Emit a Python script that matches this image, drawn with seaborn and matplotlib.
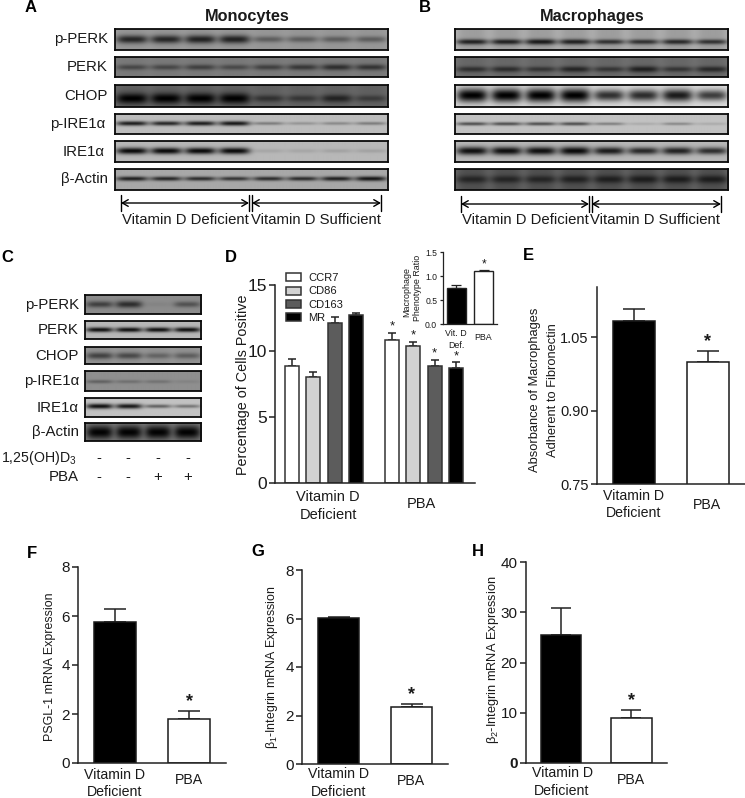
import numpy as np
import matplotlib
matplotlib.use("Agg")
import matplotlib.pyplot as plt
from matplotlib import font_manager
import seaborn as sns

# bar charts
GROUPS = ["Vitamin D\nDeficient", "PBA"]
D_MARKERS = ["CCR7", "CD86", "CD163", "MR"]
D_DEFICIENT = [8.9, 8.0, 12.15, 12.7]
D_DEFICIENT_TOP = [9.4, 8.4, 12.55, 12.85]
D_PBA = [10.8, 10.4, 8.9, 8.7]
D_PBA_TOP = [11.4, 10.7, 9.35, 9.15]
INSET_GROUPS = ["Vit. D\nDef.", "PBA"]
INSET_VALUES = [0.75, 1.10]
INSET_TOP = [0.81, 1.14]
E_VALUES = [1.083, 0.999]
E_TOP = [1.108, 1.022]
F_VALUES = [5.75, 1.78]
F_TOP = [6.30, 2.13]
G_VALUES = [6.02, 2.33]
G_TOP = [6.05, 2.48]
H_VALUES = [25.5, 8.9]
H_TOP = [30.9, 10.6]

# blots: band strength per lane, one row per antibody
BLOT_LABELS = ["p-PERK", "PERK", "CHOP", "p-IRE1α", "IRE1α", "β-Actin"]
A_BANDS = [[.75, .75, .78, .78, .38, .38, .38, .38],
           [.42, .42, .48, .40, .48, .55, .62, .58],
           [1, 1, 1, 1, .50, .45, .65, .40],
           [.85, .80, .85, .88, .35, .22, .28, .35],
           [.95, .95, .95, .95, .10, .10, .12, .12],
           [.82, .78, .75, .70, .75, .75, .82, .88]]
B_BANDS = [[.80, .80, .85, .80, .70, .70, .75, .70],
           [.55, .58, .50, .65, .50, .70, .50, .62],
           [1, 1, 1, 1, .78, .80, .88, .72],
           [.60, .60, .60, .60, .35, .12, .30, .12],
           [.92, .92, .92, .95, .85, .78, .82, .75],
           [.55, .55, .55, .60, .62, .65, .65, .65]]
C_BANDS = [[.55, .68, .06, .42],
           [.92, .92, .92, .92],
           [.55, .50, .32, .36],
           [.32, .22, .20, .08],
           [.92, .88, .50, .40],
           [.98, .98, .98, .98]]

# blot look, row by row
A_BG = [.62, .50, .42, .74, .72, .66]
B_BG = [.72, .46, .86, .76, .72, .42]
C_BG = [.55, .72, .60, .56, .76, .50]
A_SMEAR = [.05, .05, .10, 0, 0, 0]
B_SMEAR = [.14, .12, 0, 0, 0, .25]
C_SMEAR = [0, 0, .05, 0, 0, 0]
A_THICK = [5.0, 4.2, 5.2, 2.6, 3.4, 2.6]
B_THICK = [3.2, 4.0, 7.0, 2.4, 4.4, 5.5]
C_THICK = [4.6, 2.4, 4.8, 3.0, 2.6, 7.0]
A_BAND_Y = [.48, .50, .60, .46, .46, .45]
B_BAND_Y = [.60, .60, .46, .48, .46, .48]
C_BAND_Y = [.48, .50, .50, .52, .45, .50]

sns.set_theme(style="ticks")
plt.rcParams["font.family"] = ["Liberation Sans", "DejaVu Sans"]
plt.rcParams["mathtext.fontset"] = "custom"
plt.rcParams["mathtext.rm"] = "Liberation Sans"
plt.rcParams["mathtext.default"] = "regular"
plt.rcParams["text.color"] = "#1a1a1a"

installed = {f.name for f in font_manager.fontManager.ttflist}
NARROW = "Liberation Sans Narrow" if "Liberation Sans Narrow" in installed else "Liberation Sans"

W, H = 745, 798
fig = plt.figure(figsize=(W / 100, H / 100), dpi=100, facecolor="white")

# overlay in picture pixels, for labels and arrows
ov = fig.add_axes([0, 0, 1, 1], zorder=5)
ov.set_xlim(0, W)
ov.set_ylim(H, 0)
ov.set_axis_off()


def box_axes(x0, y0, x1, y1):                         # axes from a pixel box
    return fig.add_axes([x0 / W, 1 - y1 / H, (x1 - x0) / W, (y1 - y0) / H])


def draw_blot(x0, y0, x1, y1, bands, bg, smear, thick, band_y):
    ax = box_axes(x0, y0, x1, y1)
    w, h = int(x1 - x0) * 2, int(y1 - y0) * 2
    xs = np.linspace(0, 1, w)[None, :]
    ys = np.arange(h)[:, None] / 2
    n = len(bands)
    img = np.full((h, w), float(bg))
    for i, s in enumerate(bands):
        lane = np.exp(-((xs - (i + .5) / n) / (.46 / n)) ** 4)
        sigma = thick * (.55 + .45 * s ** 2)
        band = np.exp(-((ys - band_y * (y1 - y0)) / sigma) ** 2)
        img = img * (1 - smear * lane)
        img = img * (1 - s * band * lane)
    ax.imshow(img, cmap="gray", vmin=0, vmax=1, aspect="auto", interpolation="bilinear")
    ax.set_xticks([])
    ax.set_yticks([])
    for sp in ax.spines.values():
        sp.set_linewidth(1.3)
        sp.set_color("#0a0a0a")


def bracket(x0, x1, x2, x3, y):                       # the two arrows under a blot
    for a, b in [(x0, x1), (x2, x3)]:
        ov.annotate("", xy=(b, y), xytext=(a, y),
                    arrowprops=dict(arrowstyle="<->,head_length=0.35,head_width=0.2",
                                    lw=1, color="black", shrinkA=0, shrinkB=0))
    for x in (x0, x1, x2, x3):
        ov.plot([x, x], [y - 8, y + 8], color="black", lw=1)


def style_axis(ax, ticks, labels, size, family=None, lw=1.1, length=4.3, pad=1.5):
    sns.despine(ax=ax)
    ax.set_yticks(ticks)
    ax.set_yticklabels(labels, fontsize=size, family=family or "Liberation Sans", color="#1a1a1a")
    ax.set_xticks([])
    ax.set_xlabel("")
    ax.set_ylabel("")
    ax.tick_params(axis="y", length=length, width=lw, pad=pad, color="#222222")
    ax.spines["left"].set_linewidth(lw)
    ax.spines["bottom"].set_linewidth(lw)
    ax.spines["left"].set_color("#222222")
    ax.spines["bottom"].set_color("#222222")
    ax.patch.set_alpha(0)


def add_errors(ax, bars, tops, capsize, lw=1.1):
    xs = [b.get_x() + b.get_width() / 2 for b in bars]
    vals = [b.get_height() for b in bars]
    up = [t - v for t, v in zip(tops, vals)]
    ax.errorbar(xs, vals, yerr=[[0] * len(vals), up], fmt="none", ecolor="#222222",
                elinewidth=lw, capsize=capsize, capthick=lw, zorder=1)
    return xs


def two_bar_panel(x0, y0, x1, y1, values, tops, ylim, ticks, labels, bar_w, tick_family, tick_size, capsize, star_dy):
    ax = box_axes(x0, y0, x1, y1)
    sns.barplot(x=GROUPS, y=values, hue=GROUPS, palette=["black", "white"], dodge=False,
                edgecolor="#1a1a1a", linewidth=1.1, width=bar_w, legend=False, ax=ax, zorder=2)
    ax.set_xlim(-.5, 1.5)
    ax.set_ylim(*ylim)
    style_axis(ax, ticks, labels, tick_size, family=tick_family)
    xs = add_errors(ax, list(ax.patches)[:2], tops, capsize)
    ax.annotate("*", xy=(xs[1], tops[1]), xytext=(0, star_dy), textcoords="offset points",
                ha="center", va="center", fontsize=13, fontweight="bold", color="#1a1a1a")
    return ax


def group_labels(y_first, y_pba, centers, size=10.5, gap=18):
    ov.text(centers[0], y_first, "Vitamin D", ha="center", va="center", fontsize=size)
    ov.text(centers[0], y_first + gap, "Deficient", ha="center", va="center", fontsize=size)
    ov.text(centers[1], y_pba, "PBA", ha="center", va="center", fontsize=size)


# panels A and B
A_ROWS = [(29, 50), (57, 77), (85, 107), (114, 134), (141, 162), (169, 190)]
for i, (top, bottom) in enumerate(A_ROWS):
    draw_blot(115.5, top, 388, bottom, A_BANDS[i], A_BG[i], A_SMEAR[i], A_THICK[i], A_BAND_Y[i])
    draw_blot(454.5, top, 728, bottom, B_BANDS[i], B_BG[i], B_SMEAR[i], B_THICK[i], B_BAND_Y[i])
    right = 105 if "IRE" in BLOT_LABELS[i] else 108
    ov.text(right, (top + bottom) / 2, BLOT_LABELS[i], ha="right", va="center", fontsize=10.8)

ov.text(247, 16, "Monocytes", ha="center", va="center", fontsize=11.7, fontweight="bold")
ov.text(592, 16, "Macrophages", ha="center", va="center", fontsize=11.7, fontweight="bold")
bracket(121, 249, 252, 381, 203)
bracket(461, 589, 591.5, 721, 204)
for x in (185, 316):
    ov.text(x, 220, "Vitamin D Deficient" if x == 185 else "Vitamin D Sufficient",
            ha="center", va="center", fontsize=10.7)
for x in (525, 655):
    ov.text(x, 220, "Vitamin D Deficient" if x == 525 else "Vitamin D Sufficient",
            ha="center", va="center", fontsize=10.7)

# panel C
C_ROWS = [(295, 314), (321, 339), (347, 364), (371, 391), (398, 417), (423, 441)]
for i, (top, bottom) in enumerate(C_ROWS):
    draw_blot(85, top, 201, bottom, C_BANDS[i], C_BG[i], C_SMEAR[i], C_THICK[i], C_BAND_Y[i])
    ov.text(79, (top + bottom) / 2, BLOT_LABELS[i], ha="right", va="center", fontsize=10.8)
ov.text(77, 458, "1,25(OH)D$_3$", ha="right", va="center", fontsize=10.2)
ov.text(79, 477, "PBA", ha="right", va="center", fontsize=10.8)
for x, s in zip((99, 128, 158, 188), "--++"):
    ov.text(x, 458, "-", ha="center", va="center", fontsize=10.8)
    ov.text(x, 477, s, ha="center", va="center", fontsize=10.8)

# panel D
ax_d = box_axes(275, 285, 475, 483)
d_x = [GROUPS[0]] * 4 + [GROUPS[1]] * 4
d_hue = D_MARKERS * 2
d_colors = ["white", "#d2d2d2", "#5c5c5c", "black"]
sns.barplot(x=d_x, y=D_DEFICIENT + D_PBA, hue=d_hue, hue_order=D_MARKERS, palette=d_colors,
            width=.85, gap=.33, edgecolor="#333333", linewidth=1.1, ax=ax_d, zorder=2)
ax_d.set_xlim(-.49, 1.51)
ax_d.set_ylim(0, 15)
handles, names = ax_d.get_legend_handles_labels()
style_axis(ax_d, [0, 5, 10, 15], ["0", "5", "10", "15"], 12.5, family=NARROW)
ax_d.legend(handles, names, loc="upper left", bbox_to_anchor=(.055, 1.06), frameon=False, fontsize=8,
            handlelength=1.35, handleheight=.75, handletextpad=.65, labelspacing=.3, borderpad=0, borderaxespad=0)
d_bars = [b for c in ax_d.containers for b in c]
d_tops = [D_DEFICIENT_TOP[0], D_PBA_TOP[0], D_DEFICIENT_TOP[1], D_PBA_TOP[1],
          D_DEFICIENT_TOP[2], D_PBA_TOP[2], D_DEFICIENT_TOP[3], D_PBA_TOP[3]]
d_xs = add_errors(ax_d, d_bars, d_tops, 3)
for i in (1, 3, 5, 7):
    ax_d.annotate("*", xy=(d_xs[i], d_tops[i]), xytext=(0, 4.5), textcoords="offset points",
                  ha="center", va="center", fontsize=9.5, color="#1a1a1a")
ov.text(242.5, 385, "Percentage of Cells Positive", rotation=90, ha="center", va="center", fontsize=10.4)
group_labels(497, 504, (328, 421.5))

# D inset
ax_in = box_axes(442.7, 252.3, 497.2, 324)
sns.barplot(x=INSET_GROUPS, y=INSET_VALUES, hue=INSET_GROUPS, palette=["black", "white"], dodge=False,
            edgecolor="#222222", linewidth=1, width=.68, legend=False, ax=ax_in, zorder=2)
ax_in.set_xlim(-.5, 1.5)
ax_in.set_ylim(0, 1.5)
style_axis(ax_in, [0, .5, 1, 1.5], ["0.0", "0.5", "1.0", "1.5"], 6.2, length=2.5, lw=.9)
in_xs = add_errors(ax_in, list(ax_in.patches)[:2], INSET_TOP, 3.8, lw=.9)
ax_in.annotate("*", xy=(in_xs[1], INSET_TOP[1]), xytext=(0, 4), textcoords="offset points",
               ha="center", va="center", fontsize=8.5)
ov.text(407, 292, "Macrophage", rotation=90, ha="center", va="center", fontsize=6.4)
ov.text(417.7, 288, "Phenotype Ratio", rotation=90, ha="center", va="center", fontsize=6.4)
ov.text(456, 334, "Vit. D", ha="center", va="center", fontsize=6.4)
ov.text(456, 345, "Def.", ha="center", va="center", fontsize=6.4)
ov.text(483, 337.5, "PBA", ha="center", va="center", fontsize=6.4)

# panels E to H
two_bar_panel(596.7, 287.3, 745, 484.3, E_VALUES, E_TOP, (.75, 1.152), [.75, .9, 1.05],
              ["0.75", "0.90", "1.05"], .57, NARROW, 10.5, 7.8, 6.5)
ov.text(535, 390, "Absorbance of Macrophages", rotation=90, ha="center", va="center", fontsize=9.3)
ov.text(553, 390, "Adherent to Fibronectin", rotation=90, ha="center", va="center", fontsize=9.3)
group_labels(495.5, 505, (633.5, 707), size=10.2, gap=17.5)

two_bar_panel(78, 567, 226, 763, F_VALUES, F_TOP, (0, 8), [0, 2, 4, 6, 8],
              ["0", "2", "4", "6", "8"], .57, NARROW, 11, 7.8, 6.5)
ov.text(50, 667, "PSGL-1 mRNA Expression", rotation=90, ha="center", va="center", fontsize=8.9)
group_labels(775, 780, (115, 189), size=10.2, gap=17.5)

two_bar_panel(302.3, 570, 448, 764, G_VALUES, G_TOP, (0, 8), [0, 2, 4, 6, 8],
              ["0", "2", "4", "6", "8"], .57, NARROW, 11, 7.6, 6.5)
ov.text(272.5, 667, r"$\beta_1$-Integrin mRNA Expression", rotation=90, ha="center", va="center", fontsize=8.9)
group_labels(774, 781, (339, 411), size=10.2, gap=18)

ax_h = two_bar_panel(525.7, 562.3, 666.7, 762.7, H_VALUES, H_TOP, (0, 40), [0, 10, 20, 30, 40],
                     ["0", "10", "20", "30", "40"], .57, NARROW, 11, 7.2, 6.5)
ax_h.get_yticklabels()[0].set_fontweight("bold")
ov.text(492.7, 659.5, r"$\beta_2$-Integrin mRNA Expression", rotation=90, ha="center", va="center", fontsize=9.2)
group_labels(773, 780, (562, 631), size=10.2, gap=18)

# panel letters
for letter, x, y in [("A", 31, 8), ("B", 425, 7), ("C", 7, 258), ("D", 231, 257), ("E", 528, 256),
                     ("F", 32, 553), ("G", 258, 552), ("H", 478, 551)]:
    ov.text(x, y, letter, ha="center", va="center", fontsize=12, fontweight="bold", color="black")

fig.savefig("out.png", dpi=100)
